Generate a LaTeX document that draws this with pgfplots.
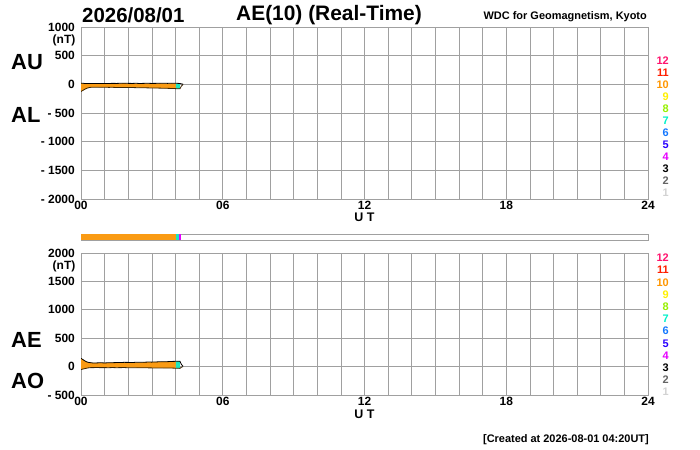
\documentclass[border=0pt]{standalone}
\usepackage{pgfplots}
\pgfplotsset{compat=1.18}
\usepackage{pgfplotstable}
\usepackage{fontspec}
\setmainfont{Liberation Sans}
\definecolor{aeor}{RGB}{250,155,20}
\definecolor{aecy}{RGB}{30,230,190}
\definecolor{cA}{RGB}{255,20,110}
\definecolor{cB}{RGB}{255,30,0}
\definecolor{cC}{RGB}{255,150,0}
\definecolor{cD}{RGB}{255,240,0}
\definecolor{cE}{RGB}{150,240,0}
\definecolor{cF}{RGB}{0,240,200}
\definecolor{cG}{RGB}{20,120,255}
\definecolor{cH}{RGB}{40,0,255}
\definecolor{cI}{RGB}{230,0,255}
\definecolor{cJ}{RGB}{0,0,0}
\definecolor{cK}{RGB}{100,100,100}
\definecolor{cL}{RGB}{210,210,210}
\definecolor{gridc}{RGB}{160,160,160}

\pgfplotstableread{
t AU AL AE AO
0.000 20 -125 145 -52
0.083 18 -105 123 -43
0.167 15 -85 100 -35
0.250 14 -68 82 -27
0.333 15 -58 73 -21
0.417 16 -52 68 -18
0.500 14 -50 64 -18
0.667 15 -50 65 -17
0.833 16 -52 68 -18
1.000 14 -50 64 -18
1.167 15 -53 68 -19
1.333 17 -52 69 -17
1.500 16 -55 71 -19
1.667 18 -54 72 -18
1.833 20 -55 75 -17
2.000 17 -57 74 -20
2.167 16 -56 72 -20
2.333 18 -58 76 -20
2.500 15 -60 75 -22
2.667 17 -60 77 -21
2.833 18 -62 80 -22
3.000 16 -63 79 -23
3.167 17 -65 82 -24
3.333 19 -66 85 -23
3.500 18 -68 86 -25
3.667 17 -70 87 -26
3.833 19 -72 91 -26
4.020 18 -75 93 -28
4.100 17 -78 95 -30
4.190 15 -78 93 -31
4.250 8 -30 38 -11
4.320 3 -3 6 0
}\aedata

\pgfplotsset{
  aeaxis/.style={
    scale only axis, width=567bp, anchor=south west,
    xmin=0, xmax=24,
    axis line style={gridc, line width=0.6bp},
    xtick={0,6,12,18,24}, xticklabels={00,06,12,18,24},
    minor xtick={0,1,...,24},
    grid=both,
    major grid style={gridc, line width=0.6bp},
    minor grid style={gridc, line width=0.6bp},
    major tick length=0pt, minor tick length=0pt,
    tick label style={font=\bfseries\fontsize{12}{12}\selectfont, inner sep=0pt},
    xticklabel style={anchor=north, yshift=-1.5bp},
    yticklabel style={anchor=east, xshift=-6bp},
  }
}

\begin{document}
\begin{tikzpicture}
\path[use as bounding box] (0bp,0bp) rectangle (700bp,450bp);

\node[anchor=west, font=\bfseries\fontsize{20.5}{20}\selectfont, inner sep=0pt] at (82bp,435bp) {2026/08/01};
\node[anchor=west, font=\bfseries\fontsize{21}{20}\selectfont, inner sep=0pt] at (236bp,435bp) {AE(10) (Real-Time)};
\node[anchor=east, font=\bfseries\fontsize{11}{11}\selectfont, inner sep=0pt] at (647bp,433bp) {WDC for Geomagnetism, Kyoto};
\node[anchor=east, font=\bfseries\fontsize{11}{11}\selectfont, inner sep=0pt] at (649bp,10bp) {[Created at 2026-08-01 04:20UT]};

\begin{axis}[aeaxis, at={(81bp,251bp)}, height=172bp,
  ymin=-2000, ymax=1000,
  ytick={-2000,-1500,-1000,-500,0,500,1000},
  yticklabels={- 2000,- 1500,- 1000,- 500,0,500,1000}]
\addplot[fill=aeor, draw=none] coordinates {(0,20)(0.083,18)(0.167,15)(0.25,14)(0.333,15)(0.417,16)(0.5,14)(0.667,15)(0.833,16)(1,14)(1.167,15)(1.333,17)(1.5,16)(1.667,18)(1.833,20)(2,17)(2.167,16)(2.333,18)(2.5,15)(2.667,17)(2.833,18)(3,16)(3.167,17)(3.333,19)(3.5,18)(3.667,17)(3.833,19)(4.02,18)
 (4.02,-75)(3.833,-72)(3.667,-70)(3.5,-68)(3.333,-66)(3.167,-65)(3,-63)(2.833,-62)(2.667,-60)(2.5,-60)(2.333,-58)(2.167,-56)(2,-57)(1.833,-55)(1.667,-54)(1.5,-55)(1.333,-52)(1.167,-53)(1,-50)(0.833,-52)(0.667,-50)(0.5,-50)(0.417,-52)(0.333,-58)(0.25,-68)(0.167,-85)(0.083,-105)(0,-125)} -- cycle;
\addplot[fill=aecy, draw=none] coordinates {(4.02,18)(4.1,17)(4.19,15)(4.19,-78)(4.1,-78)(4.02,-75)} -- cycle;
\addplot[draw=black!75!aeor, line width=0.8bp] table[x=t,y=AL]{\aedata};
\addplot[draw=black, line width=0.8bp] table[x=t,y=AU]{\aedata};
\end{axis}
\node[anchor=east, inner sep=0pt, font=\bfseries\fontsize{12}{12}\selectfont] at (75.5bp,410bp) {(nT)};
\node[font=\bfseries\fontsize{12.5}{12}\selectfont, inner sep=0pt] at (364.5bp,233bp) {U T};
\node[anchor=west, font=\bfseries\fontsize{22}{22}\selectfont, inner sep=0pt] at (11bp,388bp) {AU};
\node[anchor=west, font=\bfseries\fontsize{22}{22}\selectfont, inner sep=0pt] at (11bp,335bp) {AL};

\begin{axis}[at={(81bp,210bp)}, anchor=south west, scale only axis, width=567bp, height=6bp,
  xmin=0, xmax=24, ymin=0, ymax=1, axis line style={gridc, line width=0.6bp},
  xtick=\empty, ytick=\empty]
\addplot[fill=aeor, draw=none] coordinates {(0,0) (4.02,0) (4.02,1) (0,1)} -- cycle;
\addplot[fill=aecy, draw=none] coordinates {(4.02,0) (4.15,0) (4.15,1) (4.02,1)} -- cycle;
\addplot[fill=cI, draw=none] coordinates {(4.15,0) (4.23,0) (4.23,1) (4.15,1)} -- cycle;
\end{axis}

\begin{axis}[aeaxis, at={(81bp,55bp)}, height=142bp,
  ymin=-500, ymax=2000,
  ytick={-500,0,500,1000,1500,2000},
  yticklabels={- 500,0,500,1000,1500,2000}]
\addplot[fill=aeor, draw=none] coordinates {(0,145)(0.083,123)(0.167,100)(0.25,82)(0.333,73)(0.417,68)(0.5,64)(0.667,65)(0.833,68)(1,64)(1.167,68)(1.333,69)(1.5,71)(1.667,72)(1.833,75)(2,74)(2.167,72)(2.333,76)(2.5,75)(2.667,77)(2.833,80)(3,79)(3.167,82)(3.333,85)(3.5,86)(3.667,87)(3.833,91)(4.02,93)
 (4.02,-28)(3.833,-26)(3.667,-26)(3.5,-25)(3.333,-23)(3.167,-24)(3,-23)(2.833,-22)(2.667,-21)(2.5,-22)(2.333,-20)(2.167,-20)(2,-20)(1.833,-17)(1.667,-18)(1.5,-19)(1.333,-17)(1.167,-19)(1,-18)(0.833,-18)(0.667,-17)(0.5,-18)(0.417,-18)(0.333,-21)(0.25,-27)(0.167,-35)(0.083,-43)(0,-52)} -- cycle;
\addplot[fill=aecy, draw=none] coordinates {(4.02,93)(4.1,95)(4.19,93)(4.19,-31)(4.1,-30)(4.02,-28)} -- cycle;
\addplot[draw=black!75!aeor, line width=0.8bp] table[x=t,y=AO]{\aedata};
\addplot[draw=black, line width=0.8bp] table[x=t,y=AE]{\aedata};
\end{axis}
\node[anchor=east, inner sep=0pt, font=\bfseries\fontsize{12}{12}\selectfont] at (75.5bp,184bp) {(nT)};
\node[font=\bfseries\fontsize{12.5}{12}\selectfont, inner sep=0pt] at (364.5bp,36bp) {U T};
\node[anchor=west, font=\bfseries\fontsize{22}{22}\selectfont, inner sep=0pt] at (11bp,110bp) {AE};
\node[anchor=west, font=\bfseries\fontsize{22}{22}\selectfont, inner sep=0pt] at (11bp,69bp) {AO};

\foreach \n/\c [count=\i from 0] in {12/cA,11/cB,10/cC,9/cD,8/cE,7/cF,6/cG,5/cH,4/cI,3/cJ,2/cK,1/cL}{
  \node[anchor=east, inner sep=0pt, text=\c, font=\bfseries\fontsize{11}{11}\selectfont] at (669bp,{(389-12*\i)*1bp}) {\n};
  \node[anchor=east, inner sep=0pt, text=\c, font=\bfseries\fontsize{11}{11}\selectfont] at (669bp,{(192-12.2*\i)*1bp}) {\n};
}
\end{tikzpicture}
\end{document}
